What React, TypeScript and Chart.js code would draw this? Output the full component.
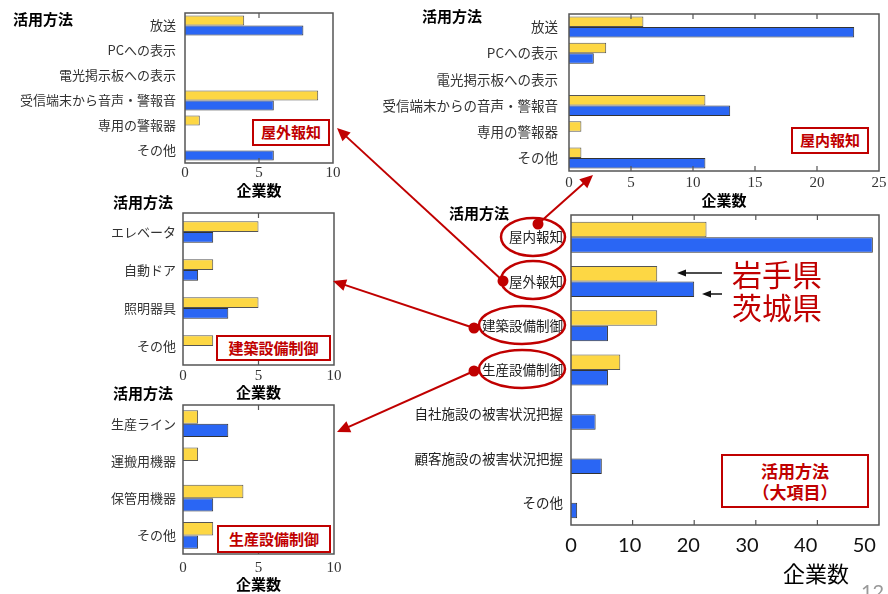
import React, { useEffect, useRef } from 'react';
import { Chart, registerables } from 'chart.js';
Chart.register(...registerables);

// ---- data ----
const outdoorLabels = ['放送', 'PCへの表示', '電光掲示板への表示', '受信端末から音声・警報音', '専用の警報器', 'その他'];
const outdoorIwate = [4, 0, 0, 9, 1, 0];
const outdoorIbaraki = [8, 0, 0, 6, 0, 6];

const indoorLabels = ['放送', 'PCへの表示', '電光掲示板への表示', '受信端末からの音声・警報音', '専用の警報器', 'その他'];
const indoorIwate = [6, 3, 0, 11, 1, 1];
const indoorIbaraki = [23, 2, 0, 13, 0, 11];

const buildingLabels = ['エレベータ', '自動ドア', '照明器具', 'その他'];
const buildingIwate = [5, 2, 5, 2];
const buildingIbaraki = [2, 1, 3, 0];

const productionLabels = ['生産ライン', '運搬用機器', '保管用機器', 'その他'];
const productionIwate = [1, 1, 4, 2];
const productionIbaraki = [3, 0, 2, 1];

const mainLabels = ['屋内報知', '屋外報知', '建築設備制御', '生産設備制御', '自社施設の被害状況把握', '顧客施設の被害状況把握', 'その他'];
const mainIwate = [22, 14, 14, 8, 0, 0, 0];
const mainIbaraki = [49, 20, 6, 6, 4, 5, 1];

const seriesNames = ['岩手県', '茨城県'];

// ---- styles ----
const YELLOW = '#FDD744';
const BLUE = '#2A66F4';
const RED = '#C00000';
const SANS = '"Noto Sans CJK JP", "Noto Sans", sans-serif';
const SERIF = '"Liberation Serif", "DejaVu Serif", serif';

const framePlugin = {
  id: 'frame',
  afterDatasetsDraw(chart: any) {
    const { ctx, chartArea: a, scales } = chart;
    const x = scales.x;
    ctx.save();
    ctx.strokeStyle = '#555';
    ctx.lineWidth = 1.5;
    ctx.strokeRect(a.left, a.top, a.right - a.left, a.bottom - a.top);
    ctx.lineWidth = 1.2;
    ctx.beginPath();
    x.ticks.forEach((t: any) => {
      const px = x.getPixelForValue(t.value);
      if (px <= a.left + 1 || px >= a.right - 1) return;
      ctx.moveTo(px, a.top);
      ctx.lineTo(px, a.top + 5);
      ctx.moveTo(px, a.bottom);
      ctx.lineTo(px, a.bottom - 5);
    });
    ctx.stroke();
    ctx.restore();
  },
};

type PanelProps = {
  box: [number, number, number, number];
  plot: [number, number, number, number];
  labels: string[];
  iwate: number[];
  ibaraki: number[];
  max: number;
  step: number;
  catPct: number;
  tickFont: any;
  tickColor: string;
  labelFont: any;
  labelColor: string;
  labelPad: number;
  tickPad: number;
  title?: string;
  labelMax?: number; // separate label scale range (labels overlaid with different spacing)
};

function Panel(p: PanelProps) {
  const ref = useRef<HTMLCanvasElement>(null);
  const [cl, ct, cw, ch] = p.box;
  useEffect(() => {
    const [pl, pt, pr, pb] = p.plot;
    const axisH = ct + ch - pb;
    const tickOpts = { stepSize: p.step, font: p.tickFont, color: p.tickColor, padding: p.tickPad, includeBounds: false };
    const titleOpts = p.title
      ? { display: true, text: p.title, font: { family: SANS, size: 15, weight: 'bold' }, color: '#000', padding: { top: 0, bottom: 0 } }
      : { display: false };
    const scales: any = {
      x: {
        type: 'linear',
        min: 0,
        max: p.max,
        ticks: p.labelMax ? { stepSize: p.step, display: false } : tickOpts,
        grid: { display: false, drawTicks: false },
        border: { display: false },
        title: p.labelMax ? { display: false } : titleOpts,
        afterFit: (s: any) => { s.height = p.labelMax ? 0 : axisH; },
      },
      y: {
        ticks: { font: p.labelFont, color: p.labelColor, padding: p.labelPad, autoSkip: false },
        grid: { display: false, drawTicks: false },
        border: { display: false },
        afterFit: (s: any) => { s.width = pl - cl; },
      },
    };
    if (p.labelMax) {
      scales.xLabels = {
        type: 'linear',
        position: 'bottom',
        min: 0,
        max: p.labelMax,
        ticks: tickOpts,
        grid: { display: false, drawTicks: false },
        border: { display: false },
        title: titleOpts,
        afterFit: (s: any) => { s.height = axisH; },
      };
    }
    const chart = new Chart(ref.current as HTMLCanvasElement, {
      type: 'bar',
      data: {
        labels: p.labels,
        datasets: [
          { label: seriesNames[0], data: p.iwate, xAxisID: 'x', backgroundColor: YELLOW, borderColor: '#555', borderWidth: 1, categoryPercentage: p.catPct, barPercentage: 1 },
          { label: seriesNames[1], data: p.ibaraki, xAxisID: 'x', backgroundColor: BLUE, borderColor: '#333', borderWidth: 1, categoryPercentage: p.catPct, barPercentage: 1 },
        ],
      },
      options: {
        indexAxis: 'y',
        responsive: false,
        animation: false,
        devicePixelRatio: 1,
        layout: { padding: { left: 0, top: pt - ct, right: cl + cw - pr, bottom: 0 } },
        plugins: { legend: { display: false }, tooltip: { enabled: false } },
        scales,
      } as any,
      plugins: [framePlugin],
    });
    return () => chart.destroy();
  }, []);
  return <canvas ref={ref} width={cw} height={ch} style={{ position: 'absolute', left: cl, top: ct, width: cw, height: ch }} />;
}

function Txt(props: { x: number; cy: number; size: number; text: string; color?: string; bold?: boolean; family?: string }) {
  return (
    <div style={{
      position: 'absolute', left: props.x, top: props.cy - props.size * 0.56, fontSize: props.size, lineHeight: 1,
      fontFamily: props.family || SANS, fontWeight: props.bold ? 'bold' : 'normal', color: props.color || '#000', whiteSpace: 'nowrap',
    }}>{props.text}</div>
  );
}

function RedBox(props: { x: number; y: number; w: number; h: number; lines: string[]; size: number }) {
  return (
    <div style={{
      position: 'absolute', left: props.x, top: props.y, width: props.w, height: props.h, boxSizing: 'border-box',
      border: `2px solid ${RED}`, background: '#fff', display: 'flex', flexDirection: 'column', alignItems: 'center',
      justifyContent: 'center', fontFamily: SANS, fontWeight: 'bold', fontSize: props.size, lineHeight: 1.25, color: RED,
    }}>
      {props.lines.map((l, i) => <div key={i}>{l}</div>)}
    </div>
  );
}

function arrowHead(x1: number, y1: number, x2: number, y2: number, len: number, half: number) {
  const dx = x2 - x1, dy = y2 - y1;
  const d = Math.hypot(dx, dy);
  const ux = dx / d, uy = dy / d;
  const bx = x2 - ux * len, by = y2 - uy * len;
  return `${x2},${y2} ${bx - uy * half},${by + ux * half} ${bx + uy * half},${by - ux * half}`;
}

const redArrows: [number, number, number, number][] = [
  [538, 224, 593, 175],
  [503, 281, 337, 128],
  [474, 328, 333, 281],
  [474, 371, 337, 432],
];
const blackArrows: [number, number, number, number][] = [
  [722, 273, 677, 273],
  [722, 294, 702, 294],
];
const ellipses: [number, number, number, number][] = [
  [533, 237, 32, 19],
  [533, 280, 32, 19],
  [522, 325, 43, 19],
  [522, 369, 43, 19],
];

export default function App() {
  const smallTick = { family: SERIF, size: 15 };
  const smallLabel = { family: SANS, size: 13 };
  return (
    <div style={{ position: 'absolute', left: 0, top: 0, width: 888, height: 594, overflow: 'hidden', background: '#fff' }}>
      <Panel box={[0, -12, 350, 211]} plot={[185, 13, 333, 163]} labels={outdoorLabels} iwate={outdoorIwate} ibaraki={outdoorIbaraki}
        max={10} step={5} catPct={0.8} tickFont={smallTick} tickColor="#333" labelFont={smallLabel} labelColor="#333" labelPad={9} tickPad={1} title="企業数" />
      <Panel box={[370, -12, 530, 221]} plot={[569, 14, 879, 171]} labels={indoorLabels} iwate={indoorIwate} ibaraki={indoorIbaraki}
        max={25} step={5} catPct={0.8} tickFont={smallTick} tickColor="#333" labelFont={{ family: SANS, size: 13.5 }} labelColor="#333" labelPad={11} tickPad={3} title="企業数" />
      <Panel box={[100, 190, 260, 211]} plot={[183, 213, 334, 365]} labels={buildingLabels} iwate={buildingIwate} ibaraki={buildingIbaraki}
        max={10} step={5} catPct={0.57} tickFont={smallTick} tickColor="#333" labelFont={smallLabel} labelColor="#333" labelPad={7} tickPad={2} title="企業数" />
      <Panel box={[100, 380, 260, 213]} plot={[183, 405, 334, 554]} labels={productionLabels} iwate={productionIwate} ibaraki={productionIbaraki}
        max={10} step={5} catPct={0.72} tickFont={smallTick} tickColor="#333" labelFont={smallLabel} labelColor="#333" labelPad={7} tickPad={5} title="企業数" />
      <Panel box={[400, 190, 500, 370]} plot={[571, 215, 879, 525]} labels={mainLabels} iwate={mainIwate} ibaraki={mainIbaraki}
        max={50} step={10} labelMax={52.5} catPct={0.7} tickFont={{ family: 'Lato, "Open Sans", sans-serif', size: 20 }} tickColor="#111"
        labelFont={{ family: SANS, size: 13.5 }} labelColor="#222" labelPad={8} tickPad={9} />

      <Txt x={13} cy={19} size={15} bold text="活用方法" />
      <Txt x={422} cy={16} size={15} bold text="活用方法" />
      <Txt x={113} cy={202} size={15} bold text="活用方法" />
      <Txt x={113} cy={393} size={15} bold text="活用方法" />
      <Txt x={449} cy={213} size={15} bold text="活用方法" />

      <Txt x={783} cy={573} size={22} text="企業数" />
      <Txt x={861} cy={592} size={20} color="#999" family='Lato, sans-serif' text="12" />

      <RedBox x={252} y={119} w={78} h={27} size={15} lines={['屋外報知']} />
      <RedBox x={791} y={127} w={78} h={27} size={15} lines={['屋内報知']} />
      <RedBox x={216} y={335} w={115} h={26} size={15} lines={['建築設備制御']} />
      <RedBox x={217} y={525} w={114} h={28} size={15} lines={['生産設備制御']} />
      <RedBox x={721} y={454} w={148} h={54} size={17} lines={['活用方法', '（大項目）']} />

      <Txt x={732} cy={275} size={30} color={RED} text="岩手県" />
      <Txt x={732} cy={308} size={30} color={RED} text="茨城県" />

      <svg width={888} height={594} style={{ position: 'absolute', left: 0, top: 0, pointerEvents: 'none' }}>
        {ellipses.map(([cx, cy, rx, ry], i) => (
          <ellipse key={'e' + i} cx={cx} cy={cy} rx={rx} ry={ry} fill="none" stroke={RED} strokeWidth={2.5} />
        ))}
        {redArrows.map(([x1, y1, x2, y2], i) => (
          <g key={'r' + i}>
            <line x1={x1} y1={y1} x2={x2 - (x2 - x1) * 0.04} y2={y2 - (y2 - y1) * 0.04} stroke={RED} strokeWidth={2} />
            <polygon points={arrowHead(x1, y1, x2, y2, 13, 6)} fill={RED} />
            <circle cx={x1} cy={y1} r={5.5} fill={RED} />
          </g>
        ))}
        {blackArrows.map(([x1, y1, x2, y2], i) => (
          <g key={'b' + i}>
            <line x1={x1} y1={y1} x2={x2 + 6} y2={y2} stroke="#111" strokeWidth={1.5} />
            <polygon points={arrowHead(x1, y1, x2, y2, 9, 3.5)} fill="#111" />
          </g>
        ))}
      </svg>
    </div>
  );
}
